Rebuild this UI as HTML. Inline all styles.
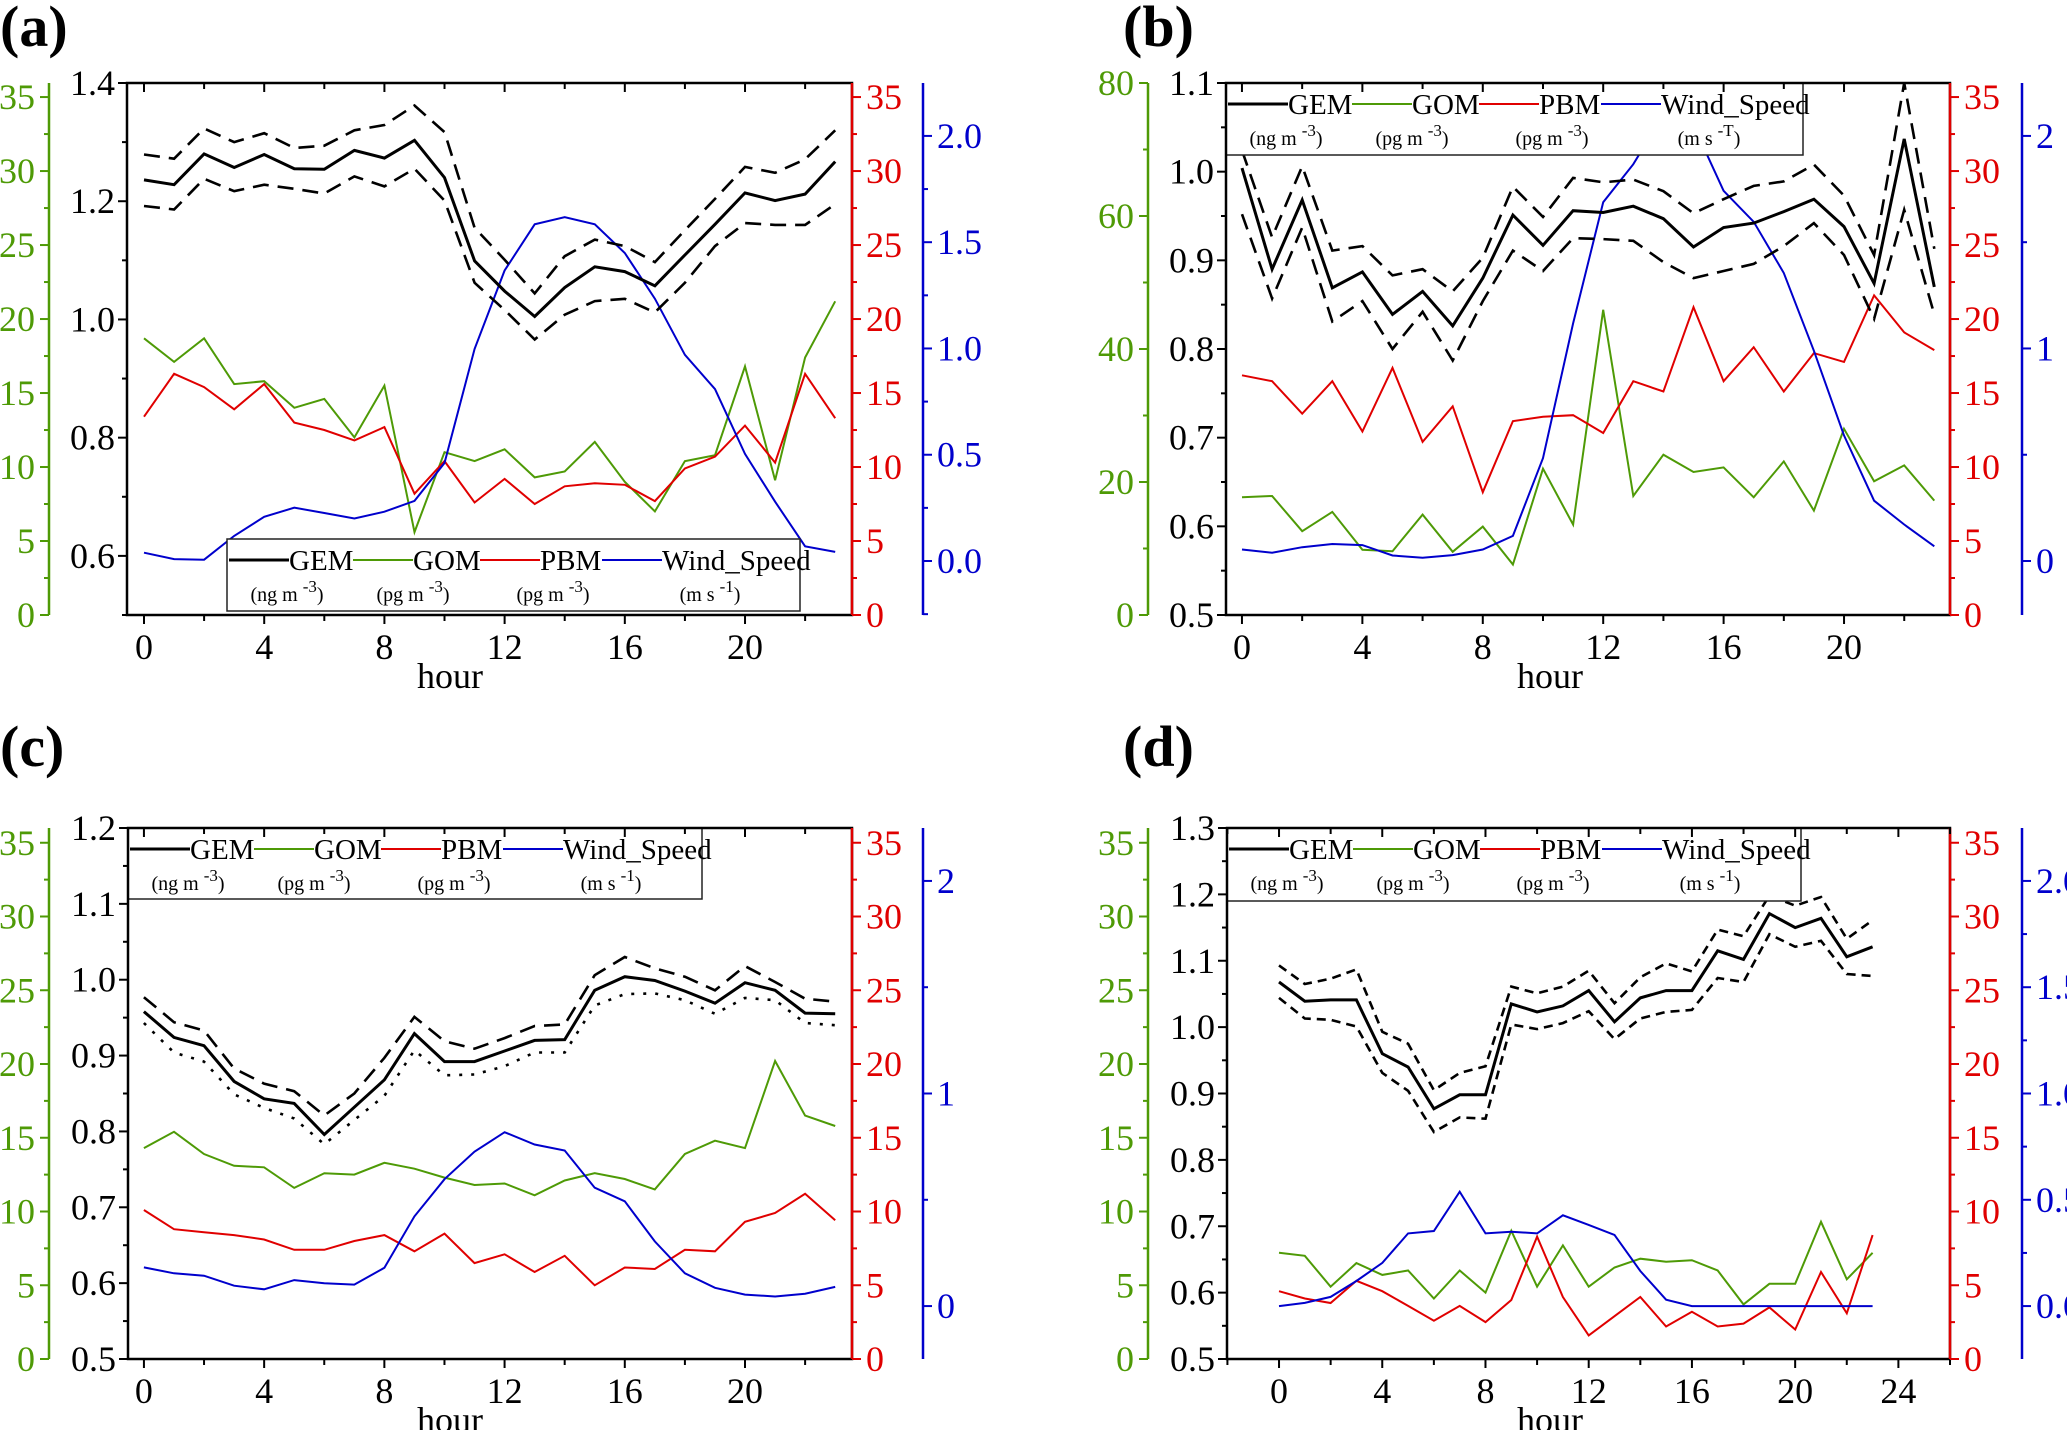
<!DOCTYPE html>
<html><head><meta charset="utf-8"><style>
html,body{margin:0;padding:0;background:#fff;}
svg, svg text, svg tspan{font-family:"Liberation Serif","Times New Roman",serif;}
</style></head><body>
<svg id="fig" width="2067" height="1430" viewBox="0 0 2067 1430" font-family="Liberation Serif, serif"></svg>
<script>
const hours = [0,1,2,3,4,5,6,7,8,9,10,11,12,13,14,15,16,17,18,19,20,21,22,23];
// Panel (a)
const gemA = [1.236,1.228,1.280,1.257,1.279,1.255,1.254,1.286,1.273,1.303,1.240,1.099,1.048,1.005,1.054,1.089,1.081,1.057,1.109,1.161,1.214,1.201,1.212,1.267];
const gemUpA = [1.279,1.272,1.323,1.300,1.315,1.290,1.294,1.320,1.329,1.362,1.317,1.155,1.101,1.044,1.107,1.135,1.124,1.097,1.151,1.204,1.258,1.248,1.271,1.320];
const gemLoA = [1.192,1.186,1.238,1.217,1.228,1.221,1.213,1.242,1.225,1.255,1.201,1.062,1.016,0.966,1.008,1.031,1.035,1.012,1.062,1.124,1.163,1.160,1.160,1.195];
const gomA = [18.7,17.1,18.7,15.6,15.8,14.0,14.6,12.0,15.5,5.6,11.0,10.4,11.2,9.3,9.7,11.7,9.0,7.0,10.4,10.8,16.8,9.1,17.4,21.2];
const pbmA = [13.4,16.3,15.4,13.9,15.6,13.0,12.5,11.8,12.7,8.2,10.4,7.6,9.2,7.5,8.7,8.9,8.8,7.7,9.9,10.7,12.8,10.3,16.3,13.3];
const windA = [0.039,0.009,0.006,0.118,0.208,0.251,0.226,0.200,0.232,0.283,0.461,0.998,1.367,1.584,1.618,1.584,1.449,1.234,0.970,0.809,0.504,0.279,0.069,0.043];
// Panel (b)
const gemB = [1.004,0.890,0.968,0.869,0.887,0.839,0.865,0.826,0.880,0.951,0.917,0.956,0.954,0.961,0.947,0.915,0.937,0.942,0.955,0.969,0.938,0.874,1.037,0.870];
const gemUpB = [1.024,0.926,1.006,0.911,0.916,0.883,0.890,0.865,0.903,0.983,0.949,0.993,0.988,0.991,0.978,0.953,0.969,0.984,0.989,1.008,0.973,0.906,1.100,0.913];
const gemLoB = [0.952,0.857,0.937,0.831,0.854,0.800,0.842,0.787,0.854,0.911,0.888,0.925,0.924,0.922,0.898,0.880,0.888,0.896,0.916,0.942,0.906,0.834,0.957,0.839];
const gomB = [17.7,17.9,12.6,15.5,9.8,9.6,15.1,9.5,13.3,7.6,22.0,13.6,45.9,17.9,24.1,21.5,22.2,17.7,23.1,15.7,28.0,20.1,22.5,17.2];
const pbmB = [16.2,15.8,13.6,15.8,12.4,16.7,11.7,14.1,8.3,13.1,13.4,13.5,12.3,15.8,15.1,20.8,15.8,18.1,15.1,17.7,17.1,21.6,19.1,17.9];
const windB = [0.054,0.039,0.065,0.080,0.075,0.026,0.015,0.028,0.054,0.118,0.484,1.118,1.688,1.867,2.1,2.05,1.742,1.596,1.355,0.989,0.591,0.284,0.172,0.069];
// Panel (c)
const gemC = [0.958,0.924,0.913,0.866,0.843,0.837,0.796,0.832,0.868,0.929,0.892,0.892,0.906,0.920,0.921,0.986,1.004,0.999,0.985,0.969,0.996,0.986,0.956,0.955];
const gemUpC = [0.977,0.944,0.933,0.883,0.863,0.853,0.821,0.850,0.897,0.951,0.919,0.909,0.923,0.939,0.941,1.006,1.030,1.015,1.004,0.986,1.018,0.997,0.975,0.971];
const gemLoC = [0.943,0.904,0.892,0.849,0.831,0.817,0.783,0.815,0.847,0.907,0.874,0.875,0.886,0.904,0.904,0.966,0.981,0.982,0.973,0.955,0.976,0.973,0.943,0.940];
const gomC = [14.3,15.4,13.9,13.1,13.0,11.6,12.6,12.5,13.3,12.9,12.3,11.8,11.9,11.1,12.1,12.6,12.2,11.5,13.9,14.8,14.3,20.2,16.5,15.8];
const pbmC = [10.1,8.8,8.6,8.4,8.1,7.4,7.4,8.0,8.4,7.3,8.5,6.5,7.1,5.9,7.0,5.0,6.2,6.1,7.4,7.3,9.3,9.9,11.2,9.4];
const windC = [0.182,0.154,0.143,0.096,0.079,0.122,0.107,0.101,0.180,0.422,0.597,0.726,0.818,0.760,0.732,0.557,0.493,0.304,0.154,0.086,0.054,0.045,0.058,0.090];
// Panel (d)
const gemD = [1.068,1.039,1.041,1.041,0.960,0.940,0.877,0.898,0.898,1.035,1.023,1.032,1.055,1.008,1.044,1.055,1.055,1.115,1.102,1.171,1.150,1.164,1.106,1.121];
const gemUpD = [1.093,1.065,1.073,1.087,0.993,0.975,0.905,0.931,0.941,1.061,1.051,1.061,1.085,1.036,1.075,1.096,1.084,1.147,1.137,1.198,1.183,1.196,1.133,1.161];
const gemLoD = [1.044,1.013,1.011,1.001,0.931,0.904,0.842,0.864,0.862,1.004,0.997,1.006,1.024,0.982,1.013,1.023,1.026,1.074,1.068,1.140,1.121,1.130,1.080,1.077];
const gomD = [7.2,7.0,4.9,6.5,5.7,6.0,4.1,6.0,4.5,8.7,4.9,7.7,4.9,6.2,6.8,6.6,6.7,6.0,3.7,5.1,5.1,9.3,5.4,7.2];
const pbmD = [4.6,4.1,3.8,5.3,4.6,3.6,2.6,3.6,2.5,4.0,8.3,4.2,1.6,2.9,4.2,2.2,3.2,2.2,2.4,3.5,2.0,5.9,3.1,8.4];
const windD = [0,0.015,0.043,0.118,0.203,0.342,0.353,0.538,0.342,0.350,0.342,0.427,0.382,0.335,0.165,0.030,0,0,0,0,0,0,0,0];

const NS = "http://www.w3.org/2000/svg";
const svg = document.getElementById('fig');
const GREEN = "#4e9a06", RED = "#e00000", BLUE = "#0000cc";
const FONT = "Liberation Serif, serif";

function mk(tag, attrs, parent) {
  const e = document.createElementNS(NS, tag);
  for (const k in attrs) e.setAttribute(k, attrs[k]);
  (parent || svg).appendChild(e);
  return e;
}
function txt(s, x, y, size, fill, anchor, parent, weight) {
  const t = mk('text', {x: x, y: y, 'font-size': size, fill: fill, 'text-anchor': anchor || 'start', 'font-family': FONT}, parent);
  if (weight) t.setAttribute('font-weight', weight);
  t.textContent = s;
  return t;
}
function fmt(v, d) { return v.toFixed(d); }

function panel(P) {
  const g = mk('g', {});
  
  
  const xs = h => P.x0 + (h - P.hmin) / (P.hmax - P.hmin) * (P.x1 - P.x0);
  const yL = v => P.y1 - (v - P.left[0]) / (P.left[1] - P.left[0]) * (P.y1 - P.y0);
  const yG = v => P.y1 - (v - P.green[0]) / (P.green[1] - P.green[0]) * (P.y1 - P.y0);
  const yR = v => P.y1 - (v - P.red[0]) / (P.red[1] - P.red[0]) * (P.y1 - P.y0);
  const yB = v => P.y1 - (v - P.blue[0]) / (P.blue[1] - P.blue[0]) * (P.y1 - P.y0);

  const lab = txt('(' + P.id + ')', P.labX, P.labY, 58, '#000', 'start', g, 'bold');
  
  

  const cp = mk('clipPath', {id: 'clip' + P.id}, g);
  mk('rect', {x: P.x0, y: P.y0, width: P.x1 - P.x0, height: P.y1 - P.y0}, cp);
  const sg = mk('g', {'clip-path': 'url(#clip' + P.id + ')'}, g);
  function lineC(vals, sc, color, w, dash, name) {
    const pts = hours.map((h, i) => xs(h).toFixed(1) + ',' + sc(vals[i]).toFixed(1)).join(' ');
    const pl = mk('polyline', {points: pts, fill: 'none', stroke: color, 'stroke-width': w}, sg);
    if (dash) pl.setAttribute('stroke-dasharray', dash);
    
    
  }
  lineC(P.gom, yG, GREEN, 2, null, 'gom-line');
  lineC(P.pbm, yR, RED, 2, null, 'pbm-line');
  lineC(P.wind, yB, BLUE, 2, null, 'wind-speed-line');
  lineC(P.up, yL, '#000', 2.6, P.upDash, 'gem-upper-bound');
  lineC(P.lo, yL, '#000', 2.6, P.loDash, 'gem-lower-bound');
  lineC(P.gem, yL, '#000', 3, null, 'gem-line');

  const L = P.leg;
  const lg = mk('g', {}, g);
  
  
  mk('rect', {x: L.x, y: L.y, width: L.w, height: L.h, fill: '#fff', stroke: '#222', 'stroke-width': 1.5}, lg);
  const items = [['GEM', '#000', 3, 'ng m', '-3'], ['GOM', GREEN, 2, 'pg m', '-3'], ['PBM', RED, 2, 'pg m', '-3'], ['Wind_Speed', BLUE, 2, 'm s', P.windSup]];
  const offs = [2, 126, 253, 375], uc = [60, 186, 326, 483];
  items.forEach((it, i) => {
    const e = mk('g', {}, lg);
    
    
    const lx = L.x + offs[i];
    mk('line', {x1: lx, y1: L.y + 21, x2: lx + 60, y2: L.y + 21, stroke: it[1], 'stroke-width': it[2]}, e);
    txt(it[0], lx + 60, L.y + 31, 29, '#000', 'start', e);
    const u = mk('text', {x: L.x + uc[i], y: L.y + 62, 'font-size': 20, 'text-anchor': 'middle', fill: '#000', 'font-family': FONT}, e);
    const t1 = mk('tspan', {}, u); t1.textContent = '(' + it[3] + ' ';
    const t2 = mk('tspan', {dy: -9, 'font-size': 17}, u); t2.textContent = it[4];
    const t3 = mk('tspan', {dy: 9}, u); t3.textContent = ')';
  });

  const bx = mk('rect', {x: P.x0, y: P.y0, width: P.x1 - P.x0, height: P.y1 - P.y0, fill: 'none', stroke: '#000', 'stroke-width': 2.5}, g);
  
  
  mk('line', {x1: P.x1, y1: P.y0, x2: P.x1, y2: P.y1, stroke: RED, 'stroke-width': 2.5}, g);

  const xa = mk('g', {}, g);
  
  
  for (let h = Math.ceil(P.hmin / 2) * 2; h <= P.hmax; h += 2) {
    const x = xs(h), major = h % 4 === 0;
    const len = major ? 9 : 6;
    mk('line', {x1: x, y1: P.y1, x2: x, y2: P.y1 + len, stroke: '#000', 'stroke-width': 2}, xa);
    mk('line', {x1: x, y1: P.y0, x2: x, y2: P.y0 + len, stroke: '#000', 'stroke-width': 2}, xa);
    if (major) txt(String(h), x, P.y1 + 44, 36, '#000', 'middle', xa);
  }
  const xt = txt('hour', P.hourX, P.y1 + 73, 36, '#000', 'middle', g);
  
  

  const la = mk('g', {}, g);
  
  
  const nL = Math.round((P.left[1] - P.left[0]) / P.leftMinor);
  for (let i = 0; i <= nL; i++) {
    const v = P.left[0] + i * P.leftMinor, y = yL(v);
    const major = Math.round(v * 1000) % Math.round(P.leftMajor * 1000) === 0;
    mk('line', {x1: P.x0 - (major ? 9 : 5), y1: y, x2: P.x0, y2: y, stroke: '#000', 'stroke-width': 2}, la);
    if (major && (P.labelBottom || i > 0)) txt(fmt(v, 1), P.x0 - 12, y + 12, 36, '#000', 'end', la);
  }

  const ga = mk('g', {}, g);
  
  
  mk('line', {x1: P.gx, y1: P.y0, x2: P.gx, y2: P.y1, stroke: GREEN, 'stroke-width': 2.5}, ga);
  for (let v = 0; v <= P.green[1] + 1e-6; v += P.greenMinor) {
    const y = yG(v);
    const major = Math.abs(v / P.greenMajor - Math.round(v / P.greenMajor)) < 1e-6;
    mk('line', {x1: P.gx - (major ? 9 : 5), y1: y, x2: P.gx, y2: y, stroke: GREEN, 'stroke-width': 2}, ga);
    if (major) txt(String(v), P.gx - 14, y + 12, 36, GREEN, 'end', ga);
  }

  const ra = mk('g', {}, g);
  
  
  for (let v = 0; v <= P.red[1] + 1e-6; v += 2.5) {
    const y = yR(v), major = v % 5 === 0;
    mk('line', {x1: P.x1, y1: y, x2: P.x1 + (major ? 9 : 5), y2: y, stroke: RED, 'stroke-width': 2}, ra);
    if (major) txt(String(v), P.x1 + 14, y + 12, 36, RED, 'start', ra);
  }

  const ba = mk('g', {}, g);
  
  
  mk('line', {x1: P.bx, y1: P.y0, x2: P.bx, y2: P.y1, stroke: BLUE, 'stroke-width': 2.5}, ba);
  for (let v = Math.ceil(P.blue[0] / P.blueMinor) * P.blueMinor; v <= P.blue[1] + 1e-6; v += P.blueMinor) {
    const y = yB(v);
    const major = Math.abs(v / P.blueMajor - Math.round(v / P.blueMajor)) < 1e-6;
    mk('line', {x1: P.bx, y1: y, x2: P.bx + (major ? 9 : 5), y2: y, stroke: BLUE, 'stroke-width': 2}, ba);
    if (major) txt(fmt(v, P.blueDec), P.bx + 14, y + 12, 36, BLUE, 'start', ba);
  }
}

panel({id: 'a', x0: 127, x1: 852, y0: 83, y1: 615, hmin: -0.566, hmax: 23.56,
  left: [0.5, 1.4], leftMinor: 0.1, leftMajor: 0.2, labelBottom: false,
  green: [0, 35.95], greenMinor: 2.5, greenMajor: 5, gx: 49,
  red: [0, 35.95], blue: [-0.254, 2.249], blueMinor: 0.25, blueMajor: 0.5, blueDec: 1, bx: 923,
  gem: gemA, up: gemUpA, lo: gemLoA, gom: gomA, pbm: pbmA, wind: windA, upDash: '16,9', loDash: '16,9',
  leg: {x: 227, y: 539, w: 573, h: 72}, windSup: '-1', labX: 0, labY: 46, hourX: 450});
panel({id: 'b', x0: 1226, x1: 1950, y0: 83, y1: 615, hmin: -0.53, hmax: 23.52,
  left: [0.5, 1.1], leftMinor: 0.05, leftMajor: 0.1, labelBottom: true,
  green: [0, 80], greenMinor: 10, greenMajor: 20, gx: 1148,
  red: [0, 35.95], blue: [-0.254, 2.249], blueMinor: 0.5, blueMajor: 1, blueDec: 0, bx: 2022,
  gem: gemB, up: gemUpB, lo: gemLoB, gom: gomB, pbm: pbmB, wind: windB, upDash: '16,9', loDash: '16,9',
  leg: {x: 1226, y: 83, w: 577, h: 72}, windSup: '-T', labX: 1123, labY: 46, hourX: 1550});
panel({id: 'c', x0: 128, x1: 852, y0: 828, y1: 1359, hmin: -0.53, hmax: 23.56,
  left: [0.5, 1.2], leftMinor: 0.05, leftMajor: 0.1, labelBottom: true,
  green: [0, 36.0], greenMinor: 2.5, greenMajor: 5, gx: 49,
  red: [0, 36.0], blue: [-0.249, 2.249], blueMinor: 0.5, blueMajor: 1, blueDec: 0, bx: 923,
  gem: gemC, up: gemUpC, lo: gemLoC, gom: gomC, pbm: pbmC, wind: windC, upDash: '16,9', loDash: '3,9',
  leg: {x: 128, y: 828, w: 574, h: 71}, windSup: '-1', labX: 0, labY: 766, hourX: 450});
panel({id: 'd', x0: 1227, x1: 1950, y0: 828, y1: 1359, hmin: -2.016, hmax: 26.0,
  left: [0.5, 1.3], leftMinor: 0.05, leftMajor: 0.1, labelBottom: true,
  green: [0, 36.0], greenMinor: 2.5, greenMajor: 5, gx: 1148,
  red: [0, 36.0], blue: [-0.249, 2.249], blueMinor: 0.25, blueMajor: 0.5, blueDec: 1, bx: 2022,
  gem: gemD, up: gemUpD, lo: gemLoD, gom: gomD, pbm: pbmD, wind: windD, upDash: '9,6', loDash: '9,6',
  leg: {x: 1227, y: 828, w: 574, h: 73}, windSup: '-1', labX: 1123, labY: 766, hourX: 1550});
</script>
</body></html>
